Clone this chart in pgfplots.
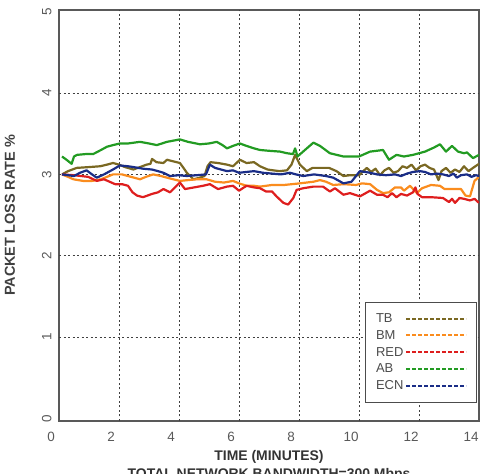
\documentclass[border=0pt]{standalone}
\usepackage{pgfplots}
\pgfplotsset{compat=1.18}
\usepackage{fontspec}
\setmainfont{Liberation Sans}
\definecolor{cTB}{RGB}{122,104,34}
\definecolor{cBM}{RGB}{250,140,30}
\definecolor{cRED}{RGB}{222,30,30}
\definecolor{cAB}{RGB}{34,155,34}
\definecolor{cECN}{RGB}{26,45,135}
\begin{document}
\begin{tikzpicture}
\begin{axis}[
  at={(59bp,53bp)}, anchor=south west,
  scale only axis, width=420bp, height=411bp,
  xmin=0, xmax=14, ymin=-0.03, ymax=5.02,
  xtick={0,2,...,14}, ytick={0,1,2,3,4,5},
  extra x ticks={2,4,...,12}, extra y ticks={1,2,3,4},
  extra tick style={grid=major, major tick length=0pt},
  extra x tick labels={}, extra y tick labels={},
  grid style={dash pattern=on 2bp off 2.5bp, black!75, line width=1bp},
  major tick length=0pt,
  /pgf/number format/assume math mode=true,
  axis line style={black!65, line width=1.3bp},
  tick label style={black!65, font=\fontsize{13.5}{14}\selectfont},
  yticklabel style={rotate=90, anchor=south, yshift=4bp},
  xticklabel style={yshift=-8bp, xshift=-8bp},
  ylabel={\textbf{PACKET LOSS RATE \%}},
  ylabel style={at={(axis description cs:-0.117,0.5)}, anchor=center, black!75, font=\fontsize{14.5}{15}\selectfont},
  xlabel={\textbf{TIME (MINUTES)}\\\textbf{TOTAL NETWORK BANDWIDTH=300 Mbps}},
  xlabel style={at={(axis description cs:0.5,-0.064)}, anchor=north, black!80, align=center, font=\fontsize{14}{17.5}\selectfont},
  legend plot pos=right,
  legend image code/.code={\draw[#1, line width=2bp, dash pattern=on 3.5bp off 2.5bp] (0bp,0bp) -- (60bp,0bp);},
  legend style={at={(0.995,0.044)}, anchor=south east, draw=black!70, line width=1bp,
    font=\fontsize{13}{13.5}\selectfont, text=black!70, row sep=2.5bp,
    inner xsep=9bp, inner ysep=9bp, cells={anchor=west}},
  every axis plot/.append style={line width=2.2bp, line join=round},
]
\addplot[cTB] coordinates {
(0.1,3.00)(0.3,3.04)(0.59,3.08)(1.0,3.09)(1.37,3.10)(1.6,3.12)(1.8,3.14)(2.0,3.12)
(2.2,3.09)(2.48,3.06)(2.7,3.09)(2.92,3.12)(3.05,3.13)(3.1,3.19)(3.25,3.15)(3.48,3.14)
(3.6,3.18)(3.81,3.16)(4.03,3.14)(4.15,3.08)(4.26,3.02)(4.48,2.94)(4.7,2.96)(4.85,2.98)
(4.95,3.10)(5.05,3.15)(5.3,3.14)(5.6,3.12)(5.8,3.10)(6.03,3.18)(6.25,3.14)(6.5,3.15)
(6.7,3.10)(6.95,3.06)(7.14,3.05)(7.35,3.04)(7.6,3.05)(7.75,3.12)(7.87,3.24)(8.03,3.12)
(8.26,3.04)(8.45,3.08)(8.7,3.08)(9.0,3.08)(9.25,3.04)(9.48,2.98)(9.7,2.99)(10.0,2.99)
(10.26,3.08)(10.4,3.03)(10.55,3.07)(10.7,2.99)(10.85,3.05)(11.0,3.08)(11.15,3.02)
(11.3,3.04)(11.45,3.10)(11.6,3.08)(11.75,3.12)(11.9,3.05)(12.05,3.10)(12.2,3.12)
(12.35,3.08)(12.5,3.06)(12.65,2.93)(12.75,3.04)(12.9,3.08)(13.05,3.02)(13.2,3.06)
(13.35,3.03)(13.5,3.10)(13.65,3.04)(13.8,3.08)(14.0,3.13)
};
\addlegendentry{TB}
\addplot[cBM] coordinates {
(0.1,3.00)(0.3,2.97)(0.48,2.94)(0.8,2.92)(1.1,2.92)(1.4,2.94)(1.6,2.97)(1.8,3.00)
(2.1,3.00)(2.4,2.97)(2.7,2.94)(2.9,2.97)(3.14,3.00)(3.4,2.98)(3.7,2.95)(4.03,2.92)
(4.3,2.93)(4.6,2.94)(4.92,2.94)(5.2,2.91)(5.5,2.90)(5.8,2.92)(6.0,2.89)(6.25,2.86)
(6.5,2.86)(6.7,2.85)(7.1,2.87)(7.5,2.87)(8.03,2.89)(8.48,2.91)(8.7,2.93)(8.9,2.91)
(9.14,2.87)(9.5,2.88)(9.9,2.87)(10.1,2.89)(10.37,2.88)(10.6,2.81)(10.8,2.77)
(11.0,2.78)(11.2,2.84)(11.4,2.84)(11.5,2.80)(11.7,2.86)(11.93,2.77)(12.1,2.83)
(12.4,2.87)(12.7,2.86)(12.85,2.82)(13.1,2.82)(13.4,2.82)(13.55,2.74)(13.7,2.73)
(13.85,2.92)(14.0,2.97)
};
\addlegendentry{BM}
\addplot[cRED] coordinates {
(0.1,3.00)(0.5,2.99)(0.97,2.97)(1.26,2.92)(1.5,2.94)(1.87,2.88)(2.1,2.88)(2.3,2.86)
(2.45,2.78)(2.6,2.74)(2.8,2.72)(3.1,2.76)(3.3,2.78)(3.48,2.82)(3.7,2.78)(4.03,2.90)
(4.2,2.82)(4.5,2.84)(4.8,2.86)(5.03,2.88)(5.3,2.82)(5.6,2.85)(5.8,2.86)(6.0,2.80)
(6.25,2.86)(6.5,2.84)(6.7,2.83)(6.9,2.79)(7.1,2.79)(7.25,2.73)(7.48,2.65)(7.64,2.63)
(7.81,2.71)(7.92,2.81)(8.14,2.83)(8.48,2.85)(8.8,2.85)(9.03,2.79)(9.2,2.83)(9.48,2.75)
(9.7,2.77)(10.03,2.73)(10.37,2.80)(10.6,2.75)(10.8,2.75)(10.95,2.72)(11.1,2.77)
(11.25,2.72)(11.4,2.76)(11.6,2.74)(11.8,2.78)(11.88,2.84)(11.95,2.76)(12.1,2.72)
(12.4,2.72)(12.8,2.71)(13.0,2.66)(13.1,2.70)(13.2,2.65)(13.35,2.71)(13.5,2.70)
(13.7,2.68)(13.85,2.70)(14.0,2.65)
};
\addlegendentry{RED}
\addplot[cAB] coordinates {
(0.1,3.22)(0.25,3.18)(0.42,3.13)(0.5,3.22)(0.6,3.24)(0.9,3.25)(1.14,3.25)(1.4,3.30)
(1.6,3.34)(1.8,3.36)(2.03,3.38)(2.3,3.38)(2.7,3.40)(3.0,3.38)(3.26,3.36)(3.6,3.40)
(4.03,3.43)(4.3,3.40)(4.7,3.37)(5.0,3.38)(5.26,3.40)(5.45,3.36)(5.6,3.32)(5.8,3.35)
(6.03,3.38)(6.25,3.35)(6.5,3.32)(6.7,3.30)(7.0,3.29)(7.37,3.28)(7.6,3.26)(7.8,3.25)
(7.87,3.32)(7.95,3.22)(8.26,3.32)(8.48,3.39)(8.7,3.35)(9.03,3.26)(9.48,3.22)(10.0,3.22)
(10.37,3.28)(10.8,3.30)(11.0,3.18)(11.25,3.24)(11.5,3.22)(11.8,3.24)(12.0,3.26)
(12.2,3.28)(12.5,3.33)(12.7,3.37)(12.9,3.28)(13.1,3.35)(13.3,3.28)(13.5,3.26)
(13.6,3.27)(13.8,3.20)(14.0,3.24)
};
\addlegendentry{AB}
\addplot[cECN] coordinates {
(0.1,3.00)(0.3,2.99)(0.5,2.98)(0.7,3.02)(0.92,3.05)(1.1,3.00)(1.26,2.96)(1.5,3.00)
(1.8,3.06)(2.03,3.11)(2.3,3.10)(2.48,3.09)(2.8,3.07)(3.1,3.06)(3.3,3.04)(3.48,3.02)
(3.7,2.98)(4.0,2.99)(4.26,2.98)(4.6,2.99)(4.9,3.00)(5.03,3.12)(5.2,3.08)(5.4,3.06)
(5.6,3.04)(5.8,3.05)(6.0,3.02)(6.25,3.03)(6.5,3.04)(6.8,3.02)(7.1,3.01)(7.4,3.00)
(7.7,3.02)(7.9,3.00)(8.14,2.98)(8.5,3.00)(8.9,2.98)(9.14,2.96)(9.48,2.89)(9.75,2.91)
(10.03,3.04)(10.37,3.02)(10.6,3.00)(10.9,2.99)(11.2,3.00)(11.4,2.98)(11.6,3.01)
(11.8,3.03)(12.03,3.04)(12.2,3.03)(12.4,3.00)(12.6,3.01)(12.8,3.00)(13.0,2.98)
(13.15,3.01)(13.26,2.96)(13.4,2.99)(13.6,3.00)(13.75,2.97)(13.9,2.99)(14.0,2.98)
};
\addlegendentry{ECN}
\end{axis}
\pgfresetboundingbox
\path (0,0) rectangle (484bp,474bp);
\end{tikzpicture}
\end{document}
